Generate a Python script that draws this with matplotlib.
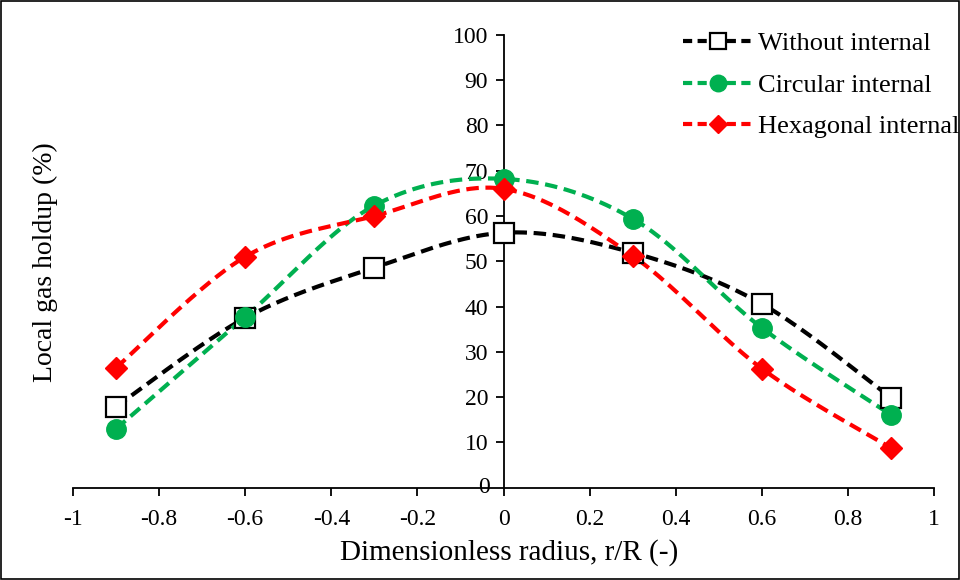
import numpy as np
import matplotlib
matplotlib.use("Agg")
import matplotlib.pyplot as plt

plt.rcParams['font.family'] = ['Liberation Serif', 'DejaVu Serif']

r = [-0.9, -0.6, -0.3, 0.0, 0.3, 0.6, 0.9]
without_internal = [17.9, 37.5, 48.6, 56.3, 51.9, 40.6, 19.9]
circular_internal = [13.0, 37.7, 62.3, 68.2, 59.4, 35.3, 16.1]
hexagonal_internal = [26.5, 51.0, 60.0, 66.0, 51.2, 26.3, 8.8]

labels = ["Without internal", "Circular internal", "Hexagonal internal"]
x_ticks = [-1, -0.8, -0.6, -0.4, -0.2, 0, 0.2, 0.4, 0.6, 0.8, 1]
y_ticks = [10, 20, 30, 40, 50, 60, 70, 80, 90, 100]


def smooth(x, y, n=40):
    # Excel-like smoothed line (Catmull-Rom as cubic Bezier)
    x = np.asarray(x, float); y = np.asarray(y, float)
    P = np.column_stack([x, y])
    out = []
    t = np.linspace(0, 1, n)
    for i in range(len(P) - 1):
        p0 = P[i - 1] if i > 0 else P[i]
        p1 = P[i]; p2 = P[i + 1]
        p3 = P[i + 2] if i + 2 < len(P) else P[i + 1]
        c1 = p1 + (p2 - p0) / 6.0
        c2 = p2 - (p3 - p1) / 6.0
        seg = ((1 - t) ** 3)[:, None] * p1 + (3 * (1 - t) ** 2 * t)[:, None] * c1 \
            + (3 * (1 - t) * t ** 2)[:, None] * c2 + (t ** 3)[:, None] * p2
        out.append(seg if i == 0 else seg[1:])
    S = np.vstack(out)
    return S[:, 0], S[:, 1]


fig = plt.figure(figsize=(9.6, 5.8), dpi=100)
ax = fig.add_axes([0.076, 0.159, 0.897, 0.781])

dash = (0, (3.0, 1.6))
styles = [
    dict(color="black", marker="s", mfc="white", mec="black", ms=14, mew=1.6),
    dict(color="#00B050", marker="o", mfc="#00B050", mec="#00B050", ms=14, mew=1),
    dict(color="#FF0000", marker="D", mfc="#FF0000", mec="#FF0000", ms=11, mew=1),
]
series = [without_internal, circular_internal, hexagonal_internal]

for ys, st, lab in zip(series, styles, labels):
    sx, sy = smooth(r, ys)
    ax.plot(sx, sy, color=st["color"], lw=3, ls=dash, zorder=2)
    ax.plot(r, ys, ls="none", marker=st["marker"], mfc=st["mfc"], mec=st["mec"],
            ms=st["ms"], mew=st["mew"], zorder=3)
    ax.plot([], [], color=st["color"], lw=3, ls=(0, (2.2, 1.3)), marker=st["marker"],
            mfc=st["mfc"], mec=st["mec"], ms=st["ms"] * 0.85, mew=st["mew"], label=lab)

ax.set_xlim(-1, 1)
ax.set_ylim(0, 100)
ax.spines['left'].set_position(('data', 0))
ax.spines['bottom'].set_position(('data', 0))
ax.spines['top'].set_visible(False)
ax.spines['right'].set_visible(False)
for s in ['left', 'bottom']:
    ax.spines[s].set_linewidth(1.3)

ax.set_xticks(x_ticks)
ax.set_xticklabels([("%g" % v) for v in x_ticks])
ax.set_yticks(y_ticks)
ax.tick_params(axis='both', direction='out', length=6, width=1.3, labelsize=17)
ax.tick_params(axis='x', pad=9)
ax.tick_params(axis='y', pad=5)
ax.text(-0.032, 0, "0", ha="right", va="center", fontsize=17)

fig.text(0.53, 0.047, "Dimensionless radius, r/R (-)", ha="center", va="center", fontsize=21)
fig.text(0.047, 0.548, "Local gas holdup (%)", rotation=90, ha="center", va="center", fontsize=20)

leg = fig.legend(loc="upper left", bbox_to_anchor=(0.700, 0.963), frameon=False, fontsize=19,
                 handlelength=2.7, labelspacing=0.68, handletextpad=0.15, borderaxespad=0)

fig.patches.append(plt.Rectangle((0.001, 0.001), 0.998, 0.998, transform=fig.transFigure,
                                 fill=False, ec="black", lw=1.2))

fig.savefig("out.png", dpi=100)
